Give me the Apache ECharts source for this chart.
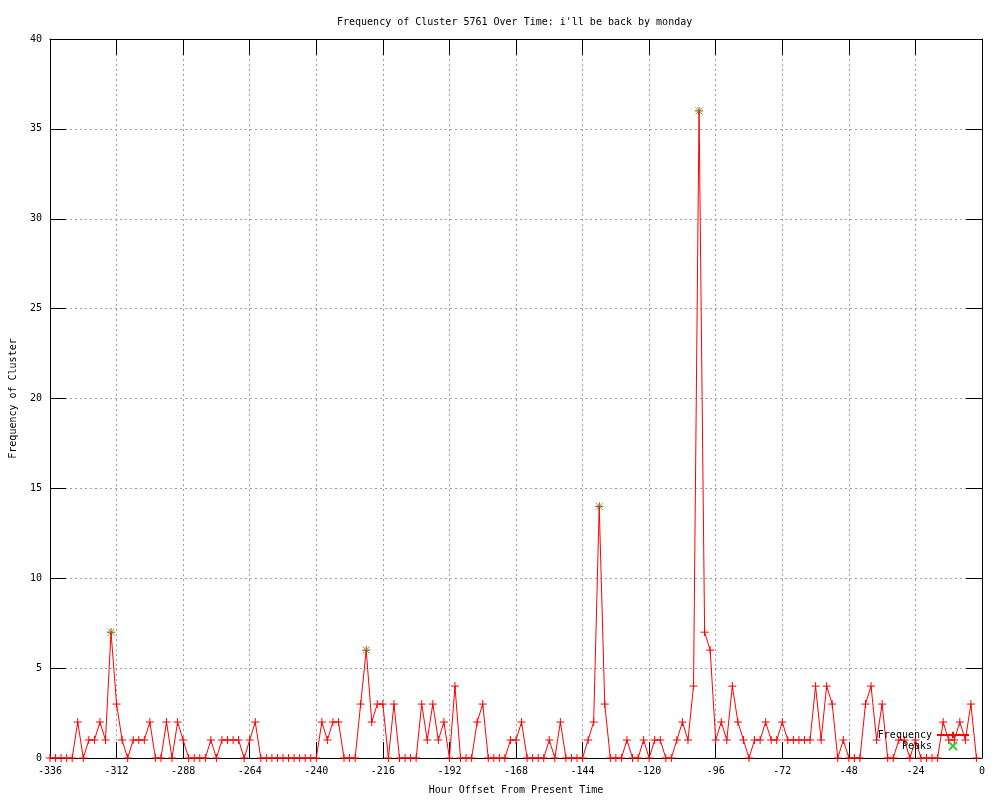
<!DOCTYPE html>
<html>
<head>
<meta charset="utf-8">
<script src="https://cdn.jsdelivr.net/npm/echarts@6/dist/echarts.min.js"></script>
<style>
html,body{margin:0;padding:0;background:#fff;}
#chart{width:1000px;height:800px;}
</style>
</head>
<body>
<div id="chart"></div>
<script>
// ---- data ----
const TITLE = "Frequency of Cluster 5761 Over Time: i'll be back by monday";
const HOUR_START = -336;   // first sample hour
const HOUR_STEP = 2;       // hours between samples
const counts = [
  0,0,0,0,0,2,0,1,1,2, 1,7,3,1,0,1,1,1,2,0,
  0,2,0,2,1,0,0,0,0,1, 0,1,1,1,1,0,1,2,0,0,
  0,0,0,0,0,0,0,0,0,2, 1,2,2,0,0,0,3,6,2,3,
  3,0,3,0,0,0,0,3,1,3, 1,2,0,4,0,0,0,2,3,0,
  0,0,0,1,1,2,0,0,0,0, 1,0,2,0,0,0,0,1,2,14,
  3,0,0,0,1,0,0,1,0,1, 1,0,0,1,2,1,4,36,7,6,
  1,2,1,4,2,1,0,1,1,2, 1,1,2,1,1,1,1,1,4,1,
  4,3,0,1,0,0,0,3,4,1, 3,0,0,1,1,0,1,0,0,0,
  0,2,1,1,2,1,3,0
];
const peakHours  = [-314, -222, -138, -102];
const peakCounts = [7, 6, 14, 36];
const xTicks = { min: -336, max: 0, interval: 24 };
const yTicks = { min: 0, max: 40, interval: 5 };

// ---- build ----
const hours = counts.map((_, i) => HOUR_START + HOUR_STEP * i);
const freqData = hours.map((h, i) => [h, counts[i]]);
const peakData = peakHours.map((h, i) => [h, peakCounts[i]]);

const FONT = "DejaVu Sans Mono";
const PLUS = 'path://M0,5L10,5M5,0L5,10';
const CROSS = 'path://M0,0L10,10M10,0L0,10';
const gridLine = { show: true, lineStyle: { color: '#a0a0a0', width: 1, type: [2, 3] } };
const axisLine = { show: true, onZero: false, lineStyle: { color: '#000', width: 1 } };
const tick = { show: true, inside: true, length: 16, lineStyle: { color: '#000', width: 1 } };

const chart = echarts.init(document.getElementById('chart'), null, { renderer: 'canvas' });
chart.setOption({
  animation: false,
  backgroundColor: '#fff',
  title: {
    text: TITLE, left: 332, top: 12,
    textStyle: { fontFamily: FONT, fontSize: 10, fontWeight: 'normal', color: '#000' }
  },
  grid: { left: 50, right: 18, top: 39, bottom: 40, show: false },
  legend: {
    data: ['Frequency', 'Peaks'],
    orient: 'vertical', right: 25, top: 725, align: 'right',
    itemWidth: 32, itemHeight: 8, itemGap: 1,
    textStyle: { fontFamily: FONT, fontSize: 10, color: '#000' }
  },
  xAxis: [
    {
      type: 'value', position: 'bottom', min: xTicks.min, max: xTicks.max, interval: xTicks.interval,
      name: 'Hour Offset From Present Time', nameLocation: 'middle', nameGap: 27,
      nameTextStyle: { fontFamily: FONT, fontSize: 10, color: '#000' },
      axisLine: axisLine, axisTick: tick, splitLine: gridLine,
      axisLabel: { fontFamily: FONT, fontSize: 10, color: '#000', margin: 8 }
    },
    {
      type: 'value', position: 'top', min: xTicks.min, max: xTicks.max, interval: xTicks.interval,
      axisLine: axisLine, axisTick: tick, splitLine: { show: false }, axisLabel: { show: false }
    }
  ],
  yAxis: [
    {
      type: 'value', position: 'left', min: yTicks.min, max: yTicks.max, interval: yTicks.interval,
      name: 'Frequency of Cluster', nameLocation: 'middle', nameGap: 32, nameRotate: 90,
      nameTextStyle: { fontFamily: FONT, fontSize: 10, color: '#000' },
      axisLine: axisLine, axisTick: tick, splitLine: gridLine,
      axisLabel: { fontFamily: FONT, fontSize: 10, color: '#000', margin: 8 }
    },
    {
      type: 'value', position: 'right', min: yTicks.min, max: yTicks.max, interval: yTicks.interval,
      axisLine: axisLine, axisTick: tick, splitLine: { show: false }, axisLabel: { show: false }
    }
  ],
  series: [
    {
      name: 'Frequency', type: 'line', xAxisIndex: 0, yAxisIndex: 0,
      data: freqData, showAllSymbol: true,
      symbol: PLUS, symbolSize: 8,
      lineStyle: { color: '#ff0000', width: 1 },
      itemStyle: { color: 'rgba(0,0,0,0)', borderColor: '#ff0000', borderWidth: 1 },
      emphasis: { disabled: true }, z: 2
    },
    {
      name: 'Peaks', type: 'scatter', xAxisIndex: 0, yAxisIndex: 0,
      data: peakData,
      symbol: CROSS, symbolSize: 7,
      itemStyle: { color: 'rgba(0,0,0,0)', borderColor: '#00c000', borderWidth: 1 },
      emphasis: { disabled: true }, z: 3
    }
  ]
});
</script>
</body>
</html>
